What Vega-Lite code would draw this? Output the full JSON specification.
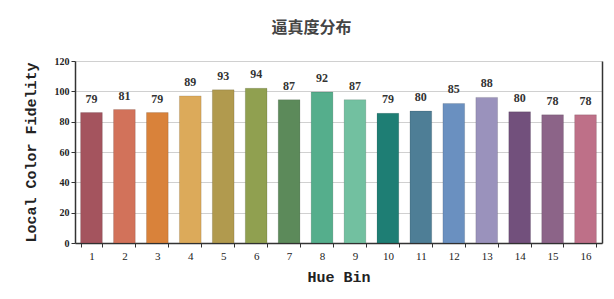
{
  "$schema": "https://vega.github.io/schema/vega-lite/v6.json",
  "autosize": "none",
  "width": 527,
  "height": 182,
  "padding": {"left": 75, "top": 61, "right": 12, "bottom": 56},
  "background": "white",
  "title": {
    "text": "逼真度分布",
    "font": "Noto Sans CJK SC",
    "fontSize": 16,
    "fontWeight": "bold",
    "color": "#444",
    "anchor": "middle",
    "dx": -27,
    "offset": 20
  },
  "config": {
    "view": {"stroke": null},
    "axis": {
      "labelFont": "Liberation Serif",
      "titleFont": "Liberation Mono",
      "titleFontWeight": "bold",
      "titleFontSize": 15,
      "titleColor": "#222",
      "labelColor": "#222",
      "domainColor": "#333",
      "tickColor": "#333"
    }
  },
  "data": {
    "values": [
      {"bin": "1", "fidelity": 86, "label": "79", "color": "#a4545e"},
      {"bin": "2", "fidelity": 88, "label": "81", "color": "#d2725a"},
      {"bin": "3", "fidelity": 86, "label": "79", "color": "#d9823a"},
      {"bin": "4", "fidelity": 97, "label": "89", "color": "#dcaa5a"},
      {"bin": "5", "fidelity": 101, "label": "93", "color": "#b19a4e"},
      {"bin": "6", "fidelity": 102, "label": "94", "color": "#90a050"},
      {"bin": "7", "fidelity": 94.5, "label": "87", "color": "#5c8a5a"},
      {"bin": "8", "fidelity": 99.5, "label": "92", "color": "#55ae8c"},
      {"bin": "9", "fidelity": 94.5, "label": "87", "color": "#72c0a0"},
      {"bin": "10", "fidelity": 85.5, "label": "79", "color": "#1e7e74"},
      {"bin": "11", "fidelity": 87, "label": "80", "color": "#4e7e96"},
      {"bin": "12", "fidelity": 92, "label": "85", "color": "#6a90c0"},
      {"bin": "13", "fidelity": 96, "label": "88", "color": "#9a92bc"},
      {"bin": "14", "fidelity": 86.5, "label": "80", "color": "#72507c"},
      {"bin": "15", "fidelity": 84.5, "label": "78", "color": "#8c6488"},
      {"bin": "16", "fidelity": 84.5, "label": "78", "color": "#be7088"}
    ]
  },
  "encoding": {
    "x": {
      "field": "bin",
      "type": "ordinal",
      "sort": null,
      "scale": {"paddingInner": 0.34, "paddingOuter": 0.17},
      "axis": {
        "title": "Hue Bin",
        "labelAngle": 0,
        "labelFontSize": 11,
        "labelPadding": 3,
        "tickBand": "extent",
        "tickSize": 4,
        "domainWidth": 1.5,
        "titlePadding": 8,
        "grid": false
      }
    }
  },
  "layer": [
    {
      "mark": {"type": "bar", "stroke": "#000", "strokeOpacity": 0.12, "strokeWidth": 1},
      "encoding": {
        "y": {
          "field": "fidelity",
          "type": "quantitative",
          "scale": {"domain": [0, 120]},
          "axis": {
            "title": "Local Color Fidelity",
            "values": [0, 20, 40, 60, 80, 100, 120],
            "labelFontSize": 10,
            "labelFontWeight": "bold",
            "labelPadding": 2,
            "tickSize": 4,
            "domainWidth": 1.5,
            "gridColor": "#d0d0d0",
            "titlePadding": 16
          }
        },
        "color": {"field": "color", "type": "nominal", "scale": null, "legend": null}
      }
    },
    {
      "mark": {"type": "text", "baseline": "bottom", "dy": -7, "font": "Liberation Serif", "fontSize": 12, "fontWeight": "bold", "color": "#333"},
      "encoding": {
        "y": {
          "field": "fidelity",
          "type": "quantitative",
          "scale": {"domain": [0, 120]},
          "axis": {
            "orient": "right",
            "title": null,
            "labels": false,
            "ticks": false,
            "grid": false,
            "domainWidth": 1.5
          }
        },
        "text": {"field": "label", "type": "nominal"}
      }
    }
  ],
  "resolve": {"axis": {"y": "independent"}}
}
